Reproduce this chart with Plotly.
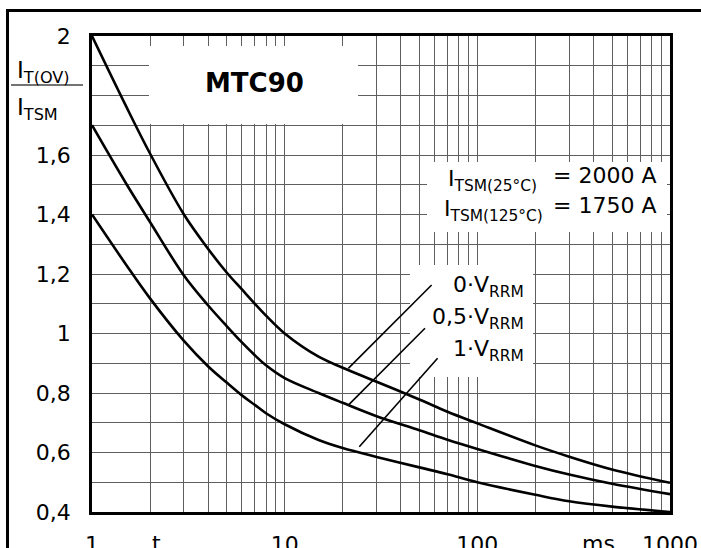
import plotly.graph_objects as go

# ---- data ----
t_ms = [1, 1.5, 2, 3, 4, 5, 6, 7, 8, 10, 15, 20, 30, 50, 70, 100, 200, 300, 500, 1000]
ratio_0v = [2.00, 1.765, 1.605, 1.40, 1.285, 1.205, 1.148, 1.10, 1.06, 1.00, 0.922, 0.885,
            0.838, 0.778, 0.737, 0.698, 0.624, 0.586, 0.543, 0.498]
ratio_05v = [1.70, 1.505, 1.375, 1.195, 1.095, 1.025, 0.97, 0.927, 0.893, 0.85, 0.80, 0.767,
             0.722, 0.675, 0.643, 0.612, 0.555, 0.526, 0.495, 0.46]
ratio_1v = [1.40, 1.232, 1.118, 0.975, 0.89, 0.835, 0.792, 0.76, 0.732, 0.695, 0.642, 0.615,
            0.585, 0.55, 0.527, 0.50, 0.458, 0.436, 0.418, 0.40]

# leader lines (t, ratio) from label to curve
leader_0v_t = [57.9, 21.4]
leader_0v_y = [1.163, 0.883]
leader_05v_t = [53.5, 21.6]
leader_05v_y = [1.0175, 0.762]
leader_1v_t = [62.2, 24.4]
leader_1v_y = [0.9166, 0.6195]

x_major = [1, 10, 100, 1000]
x_major_text = ["1", "10", "100", "1000"]
x_grid = [m * d for d in (1, 10, 100) for m in range(1, 10)] + [1000]
y_major = [0.4, 0.6, 0.8, 1.0, 1.2, 1.4, 1.6, 2.0]
y_major_text = ["0,4", "0,6", "0,8", "1", "1,2", "1,4", "1,6", "2"]
y_grid = [round(0.4 + 0.1 * i, 1) for i in range(17)]

series_labels = ["0·V<sub>RRM</sub>", "0,5·V<sub>RRM</sub>", "1·V<sub>RRM</sub>"]
title_text = "<b>MTC90</b>"

# ---- layout geometry ----
W, H = 701, 548
ML, MR, MT, MB = 92, 31, 36, 36
PW, PH = W - ML - MR, H - MT - MB


def PX(x):
    return (x - ML) / PW


def PY(y):
    return (H - MB - y) / PH


FONT = "DejaVu Sans, Arial, sans-serif"
GRID = "#5f5f5f"

fig = go.Figure()

for ys in (ratio_0v, ratio_05v, ratio_1v):
    fig.add_trace(go.Scatter(x=t_ms, y=ys, mode="lines",
                             line=dict(color="black", width=2.6, shape="spline", smoothing=1.0),
                             hoverinfo="skip", showlegend=False))

shapes = []
# white boxes hiding the grid behind texts
for (x0, y0, x1, y1) in [(149, 46, 358, 124), (427, 162, 667, 232), (410, 265, 533, 377)]:
    shapes.append(dict(type="rect", xref="paper", yref="paper",
                       x0=PX(x0), x1=PX(x1), y0=PY(y1), y1=PY(y0),
                       fillcolor="white", line=dict(width=0), layer="above"))
# outer border (top and left)
shapes.append(dict(type="line", xref="paper", yref="paper", x0=PX(6), x1=PX(701),
                   y0=PY(10.5), y1=PY(10.5), line=dict(color="black", width=3)))
shapes.append(dict(type="line", xref="paper", yref="paper", x0=PX(7.5), x1=PX(7.5),
                   y0=PY(9), y1=PY(548), line=dict(color="black", width=3)))
# fraction line of y label
shapes.append(dict(type="line", xref="paper", yref="paper", x0=PX(11), x1=PX(83),
                   y0=PY(85), y1=PY(85), line=dict(color="#444", width=1.5)))
# leader lines
for lt, ly in ((leader_0v_t, leader_0v_y), (leader_05v_t, leader_05v_y), (leader_1v_t, leader_1v_y)):
    shapes.append(dict(type="line", xref="x", yref="y", x0=lt[0], x1=lt[1], y0=ly[0], y1=ly[1],
                       line=dict(color="black", width=1.6), layer="above"))

ann = []


def add_text(text, x, y, size, xanchor="center", yanchor="middle"):
    ann.append(dict(text=text, xref="paper", yref="paper", x=PX(x), y=PY(y),
                    xanchor=xanchor, yanchor=yanchor, showarrow=False,
                    font=dict(family=FONT, size=size, color="black")))


add_text(title_text, 254, 83, 26)
add_text("I<sub>T(OV)</sub>", 15, 72, 23, xanchor="left")
add_text("I<sub>TSM</sub>", 15, 109, 23, xanchor="left")
add_text("I<sub>TSM(25°C)</sub>", 539, 180, 22, xanchor="right")
add_text("= 2000 A", 551, 176, 22, xanchor="left")
add_text("I<sub>TSM(125°C)</sub>", 545, 210, 22, xanchor="right")
add_text("= 1750 A", 551, 206, 22, xanchor="left")
add_text(series_labels[0], 526, 286, 22, xanchor="right")
add_text(series_labels[1], 526, 318, 22, xanchor="right")
add_text(series_labels[2], 526, 350, 22, xanchor="right")
add_text("t", 156, 543, 22)
add_text("ms", 598, 543, 22)

fig.update_layout(
    width=W, height=H, margin=dict(l=ML, r=MR, t=MT, b=MB, pad=0),
    paper_bgcolor="white", plot_bgcolor="white",
    font=dict(family=FONT, size=22, color="black"),
    shapes=shapes, annotations=ann, showlegend=False,
)
fig.update_xaxes(type="log", range=[0, 3], tickmode="array", tickvals=x_major, ticktext=x_major_text,
                 showgrid=True, gridcolor=GRID, gridwidth=1,
                 minor=dict(tickmode="array", tickvals=x_grid, showgrid=True, gridcolor=GRID,
                            gridwidth=1, ticks=""),
                 showline=True, linecolor="black", linewidth=2.6, mirror=True,
                 ticks="outside", ticklen=11, tickcolor="rgba(0,0,0,0)",
                 tickfont=dict(size=22), zeroline=False, automargin=False)
fig.update_yaxes(range=[0.4, 2.0], tickmode="array", tickvals=y_major, ticktext=y_major_text,
                 showgrid=True, gridcolor=GRID, gridwidth=1,
                 minor=dict(tickmode="array", tickvals=y_grid, showgrid=True, gridcolor=GRID,
                            gridwidth=1, ticks=""),
                 showline=True, linecolor="black", linewidth=2.6, mirror=True,
                 ticks="outside", ticklen=14, tickcolor="rgba(0,0,0,0)",
                 tickfont=dict(size=22), zeroline=False, automargin=False)

fig.write_html("out.html", config={"displayModeBar": False},
               post_script="document.body.style.margin='0';document.body.style.overflow='hidden';")
